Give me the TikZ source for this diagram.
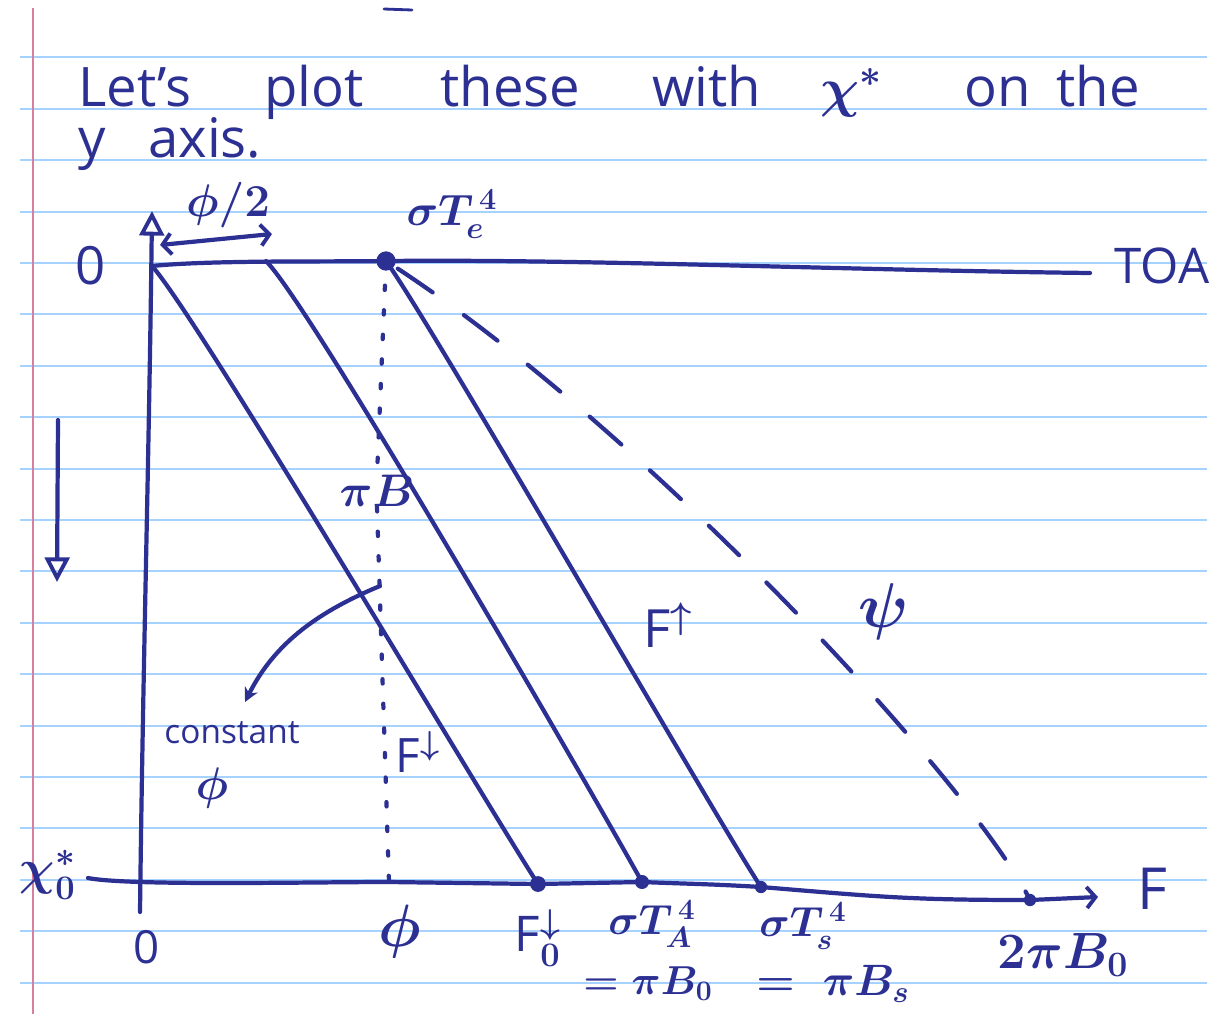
\RequirePackage{fix-cm}
\documentclass[tikz,border=0pt]{standalone}
\usepackage{fontspec}
\setmainfont{Open Sans}
\usetikzlibrary{arrows.meta}

\definecolor{ink}{RGB}{44,48,146}
\definecolor{ruled}{RGB}{166,210,255}
\definecolor{marginpink}{RGB}{214,127,158}

\newcommand{\fs}[1]{\fontsize{#1}{#1}\selectfont}

\begin{document}
\begin{tikzpicture}[
   x=0.02cm, y=-0.02cm,
   pen/.style={draw=ink,line width=2.4pt,line cap=round,line join=round},
   lbl/.style={text=ink,inner sep=0pt,execute at begin node=\boldmath},
   inkdot/.style={circle,fill=ink,inner sep=0pt,minimum size=#1},
   barb/.tip={Straight Barb[length=5pt,width=12pt,line width=2.2pt]},
   opentri/.tip={Triangle[open,length=14pt,width=14pt,line width=2.2pt]}]
  \fill[white] (0,0) rectangle (1230,1014);
  \useasboundingbox (0,0) rectangle (1230,1014);
  % paper
  \foreach \k in {0,...,18}{
    \pgfmathsetmacro{\ry}{57.4+51.4*\k}
    \draw[ruled,line width=1.2pt] (20,\ry) -- (1207,\ry);
  }
  \draw[marginpink,line width=1.2pt] (33,8) -- (33,1014);
  \draw[pen,line width=1.6pt] (384,9) -- (412,10);

  % title
  \foreach \w/\x in {Let's/78,plot/264,these/440,with/652,$\chi^*$/820,on/964,the/1056}
    \node[lbl,anchor=base west,font=\fs{31}] (title-\x) at (\x,106) {\w};
  \foreach \w/\x in {y/78,axis./148}
    \node[lbl,anchor=base west,font=\fs{31}] (line-\x) at (\x,157) {\w};

  % axes
  \coordinate (o) at (152,266);
  \coordinate (ytop) at (152,211);
  \coordinate (ybot) at (140,912);
  \coordinate (c2top) at (266,261);
  \coordinate (toaend) at (1090,273);
  \coordinate (xstart) at (88,878);
  \coordinate (phiax) at (389,882);
  \coordinate (xend) at (1098,897);
  \node[inkdot=11pt] (te) at (386,261) {};
  \node[inkdot=9pt] (f0) at (538,884) {};
  \node[inkdot=8pt] (ta) at (642,882) {};
  \node[inkdot=7pt] (ts) at (761,887) {};
  \node[inkdot=7pt] (tB) at (1030,900) {};

  \draw[pen,-opentri] (ybot) .. controls +(3,-250) and +(-3,250) .. (ytop);
  \draw[pen] (o) .. controls +(60,-6) and +(-60,1) .. (te.center)
     .. controls +(200,-2) and +(-250,-3) .. (toaend);
  \draw[pen] (xstart) .. controls +(40,8) and +(-80,0) .. (phiax) -- (f0.center)
     -- (ta.center) .. controls +(50,2) and +(-50,-3) .. (ts.center)
     .. controls +(120,10) and +(-120,0) .. (tB.center);
  \draw[pen,-barb] (tB) -- (xend);

  % labels
  \node[lbl,font=\fs{30}] (zerotop) at (91,266) {0};
  \node[lbl,font=\fs{28}] (toa) at (1162,266) {TOA};
  \node[lbl,font=\fs{25}] (sigte) at (452,214) {$\sigma T_e^{\,4}$};
  \node[lbl,font=\fs{26}] (halfphi) at (228,205) {$\phi/2$};
  \node[lbl,font=\fs{26}] (piB) at (377,491) {$\pi B$};
  \node[lbl,font=\fs{27}] (fdn) at (418,752) {F$^{\downarrow}$};
  \node[lbl,font=\fs{30}] (fup) at (668,625) {F$^{\uparrow}$};
  \node[lbl,font=\fs{36}] (psi) at (884,612) {$\psi$};
  \node[lbl,font=\fs{19}] (const) at (232,733) {constant};
  \node[lbl,font=\fs{26}] (constphi) at (212,788) {$\phi$};
  \node[lbl,font=\fs{28}] (chi0) at (48,875) {$\chi_0^*$};
  \node[lbl,font=\fs{26}] (zerobot) at (147,947) {0};
  \node[lbl,font=\fs{34}] (phib) at (400,932) {$\phi$};
  \node[lbl,font=\fs{28}] (f0lbl) at (538,938) {F$_0^{\downarrow}$};
  \node[lbl,font=\fs{24}] (talbl) at (652,924) {$\sigma T_A^{\,4}$};
  \node[lbl,font=\fs{23}] (taeq) at (648,984) {$=\pi B_0$};
  \node[lbl,font=\fs{24}] (tslbl) at (803,926) {$\sigma T_s^{\,4}$};
  \node[lbl,font=\fs{25}] (tseq) at (833,984) {$=\;\pi B_s$};
  \node[lbl,font=\fs{29}] (tBlbl) at (1063,955) {$2\pi B_0$};
  \node[lbl,font=\fs{33}] (flbl) at (1152,889) {F};

  % profiles
  \draw[pen,dash pattern=on 2.5pt off 11.5pt] (te.center) -- (piB.north);
  \draw[pen,dash pattern=on 2.5pt off 11.5pt] (piB.south) -- (phiax);
  \draw[pen] (o) .. controls +(45,50) and +(-55,-85) .. (f0.center);
  \draw[pen] (c2top) .. controls +(45,45) and +(-50,-90) .. (ta.center);
  \draw[pen] (te.center) .. controls +(50,70) and +(-40,-60) .. (ts.center);
  \draw[pen,dash pattern=on 24pt off 22pt,dash phase=-8pt] (te.center)
     .. controls +(250,160) and +(-60,-120) .. (tB.center);

  % arrows
  \coordinate (ha) at (160,245);
  \coordinate (hb) at (272,234);
  \draw[pen,barb-barb] (ha) -- (hb);
  \coordinate (da1) at (58,420);
  \coordinate (da2) at (57,582);
  \draw[pen,-opentri] (da1) -- (da2);
  \coordinate (ca1) at (380,586);
  \coordinate (ca2) at (245,702);
  \draw[pen,-{Stealth[length=8pt,width=8pt]}] (ca1)
     .. controls +(-60,25) and +(30,-60) .. (ca2);
\end{tikzpicture}
\end{document}
